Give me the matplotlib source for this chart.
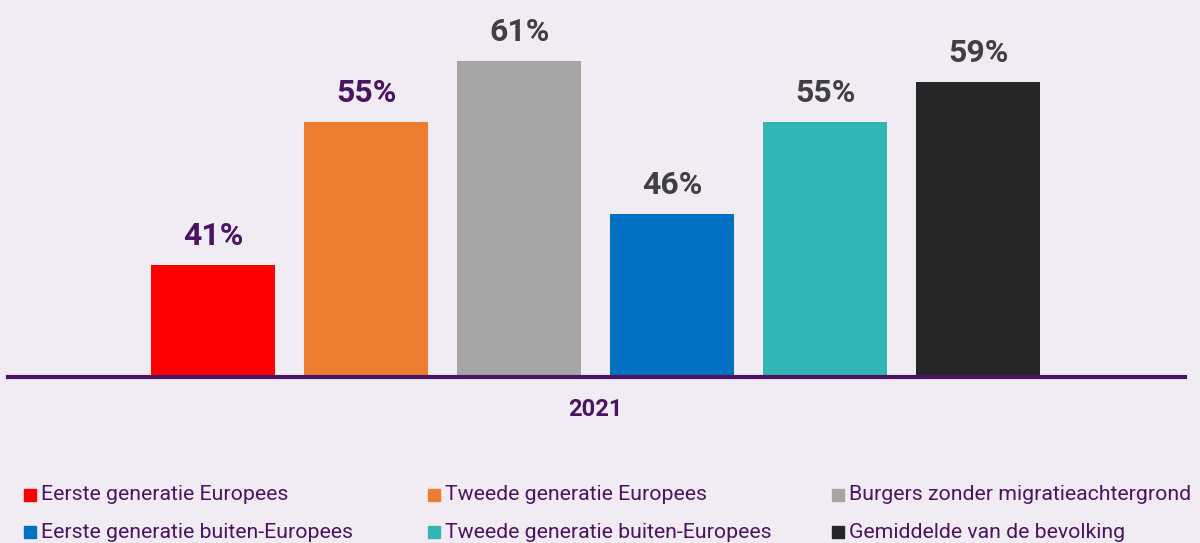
import matplotlib.pyplot as plt
from matplotlib.patches import Rectangle

plt.rcParams['font.family'] = ['Roboto', 'DejaVu Sans']

# data
groups = ['Eerste generatie Europees', 'Tweede generatie Europees',
          'Burgers zonder migratieachtergrond', 'Eerste generatie buiten-Europees',
          'Tweede generatie buiten-Europees', 'Gemiddelde van de bevolking']
values = [41, 55, 61, 46, 55, 59]
year = '2021'

colors = ['#FF0000', '#ED7D31', '#A5A5A5', '#0070C0', '#33B5B3', '#262626']
label_colors = ['#4A1463', '#4A1463', '#404040', '#404040', '#404040', '#404040']
bg = '#F1ECF3'
purple = '#4A1463'

fig = plt.figure(figsize=(12, 5.43), dpi=100, facecolor=bg)
ax = fig.add_axes([8 / 1200, 1 - 377 / 543, 1177 / 1200, 377 / 543])
ax.set_facecolor(bg)

x = list(range(len(values)))
ax.bar(x, values, width=0.81, color=colors, bottom=0, zorder=2)
for xi, v, c in zip(x, values, label_colors):
    ax.annotate(f'{v}%', (xi, v), xytext=(0, 10), textcoords='offset points',
                ha='center', va='bottom', fontsize=23, fontweight='bold', color=c)

ax.set_xlim(-1.34, 6.35)
ax.set_ylim(30, 67)
for s in ['top', 'right', 'left']:
    ax.spines[s].set_visible(False)
ax.spines['bottom'].set_color(purple)
ax.spines['bottom'].set_linewidth(3)
ax.spines['bottom'].set_zorder(3)
ax.set_yticks([])
ax.set_xticks([2.5])
ax.set_xticklabels([year], fontsize=17, fontweight='bold', color=purple)
ax.tick_params(axis='x', length=0, pad=15)

# legend, filled row by row
col_x = [24, 428, 832]
row_y = [495, 532]
for i, (name, c) in enumerate(zip(groups, colors)):
    px = col_x[i % 3]
    py = row_y[i // 3]
    fig.patches.append(Rectangle((px / 1200, 1 - (py + 6) / 543), 12 / 1200, 12 / 543,
                                 transform=fig.transFigure, color=c))
    fig.text((px + 17) / 1200, 1 - py / 543, name, fontsize=15.3, color=purple,
             va='center', ha='left')

fig.savefig('out.png', dpi=100, facecolor=bg)
